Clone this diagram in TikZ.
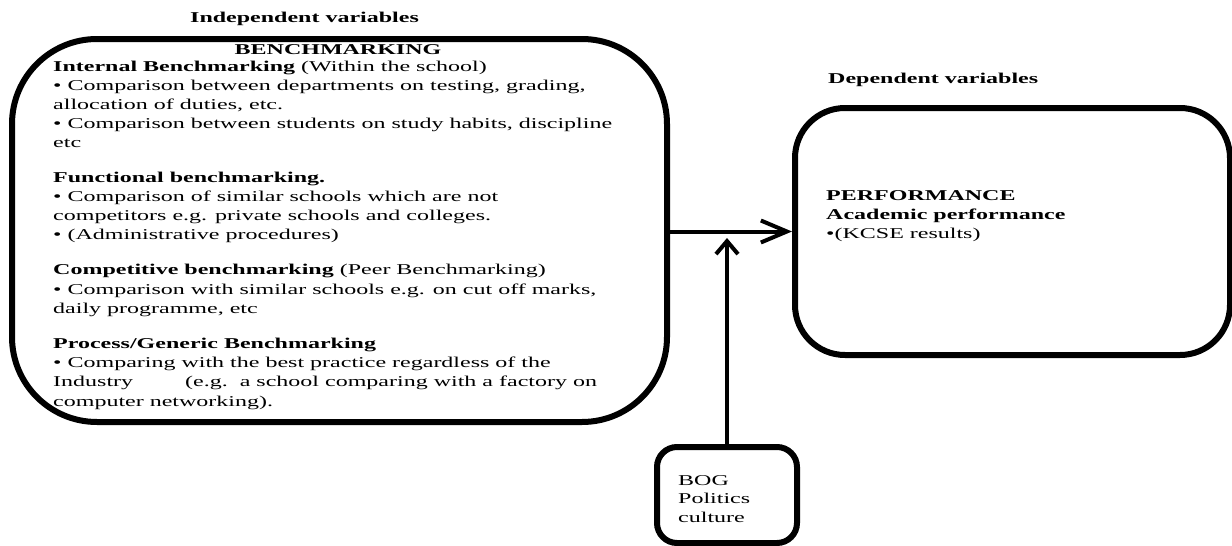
\documentclass[tikz,border=0pt]{standalone}
\usepackage{fontspec}
\setmainfont{Liberation Serif}[FakeStretch=1.6]
\usetikzlibrary{arrows.meta}
\tikzset{
  bigbox/.style={draw, line width=6pt, rounded corners=85pt, inner sep=0pt},
  perfbox/.style={draw, line width=6pt, rounded corners=50pt, inner sep=0pt},
  smallbox/.style={draw, line width=6pt, rounded corners=20pt, inner sep=0pt},
  txt/.style={inner sep=0pt, anchor=base west, font=\fontsize{15}{19}\selectfont},
  btxt/.style={inner sep=0pt, anchor=base west, font=\fontsize{15}{19}\selectfont\bfseries},
  ctxt/.style={inner sep=0pt, anchor=base, font=\fontsize{15}{19}\selectfont\bfseries},
  arr/.style={line width=4pt, -{Straight Barb[length=26pt,width=22pt]}},
  arrv/.style={line width=4pt, -{Straight Barb[length=13pt,width=22pt]}}
}
\begin{document}
\begin{tikzpicture}[x=1pt,y=-1pt]
\useasboundingbox (0,0) rectangle (1232,546);
% boxes
\node[bigbox, minimum width=655pt, minimum height=383pt] (L) at (339.5,230.5) {};
\node[perfbox, minimum width=435pt, minimum height=247pt] (R) at (1012.5,231.5) {};
\node[smallbox, minimum width=140pt, minimum height=96pt] (B) at (727,495) {};
% headings
\node[btxt] (hin) at (190,22) {Independent variables};
\node[btxt] (hdep) at (828,83) {Dependent variables};
% left box text
\node[ctxt] (bm) at (338,54) {BENCHMARKING};
\node[txt] (t1) at (53,71) {\textbf{Internal Benchmarking} (Within the school)};
\node[txt] (t2) at (53,90) {• Comparison between departments on testing, grading,};
\node[txt] (t3) at (53,109) {allocation of duties, etc.};
\node[txt] (t4) at (53,128.2) {• Comparison between students on study habits, discipline};
\node[txt] (t5) at (53,147.4) {etc};
\node[txt] (t6) at (53,182) {\textbf{Functional benchmarking.}};
\node[txt] (t7) at (53,201.3) {• Comparison of similar schools which are not};
\node[txt] (t8) at (53,220.6) {competitors e.g. private schools and colleges.};
\node[txt] (t9) at (53,239.9) {• (Administrative procedures)};
\node[txt] (t10) at (53,274.7) {\textbf{Competitive benchmarking} (Peer Benchmarking)};
\node[txt] (t11) at (53,294) {• Comparison with similar schools e.g. on cut off marks,};
\node[txt] (t12) at (53,313.3) {daily programme, etc};
\node[txt] (t13) at (53,348.1) {\textbf{Process/Generic Benchmarking}};
\node[txt] (t14) at (53,367.4) {• Comparing with the best practice regardless of the};
\node[txt] (t15) at (53,386.7) {Industry\hspace*{46pt} (e.g.\ \ a school comparing with a factory on};
\node[txt] (t16) at (53,406) {computer networking).};
% right box text
\node[btxt] (p1) at (826,200) {PERFORMANCE};
\node[btxt] (p2) at (826,219) {Academic performance};
\node[txt] (p3) at (826,238) {•(KCSE results)};
% BOG box text
\node[txt] (b1) at (678,485) {BOG};
\node[txt] (b2) at (678,503.5) {Politics};
\node[txt] (b3) at (678,522) {culture};
% connectors
\draw[arr] (L.east |- R.west) -- (R.west);
\coordinate (tipv) at ([yshift=-6.5pt]B.north |- R.west);
\draw[arrv] (B.north) -- (tipv);
\end{tikzpicture}
\end{document}
